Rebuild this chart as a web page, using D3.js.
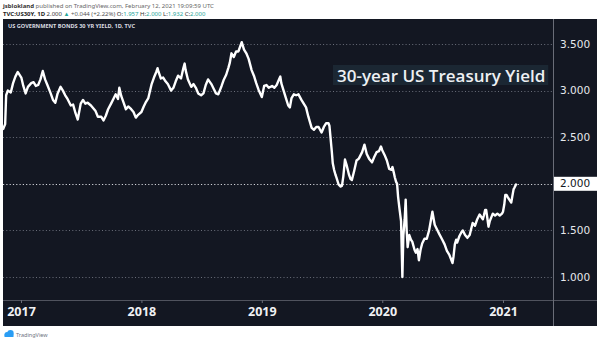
<!DOCTYPE html>
<html>
<head>
<meta charset="utf-8">
<script src="https://cdn.jsdelivr.net/npm/d3@7"></script>
<style>
html,body{margin:0;padding:0;background:#ffffff;}
svg{display:block;}
</style>
</head>
<body>
<script>
// ---- Data ----
const dates = [
"2016-11-07","2016-11-14","2016-11-17","2016-11-22","2016-12-01","2016-12-08","2016-12-15","2016-12-22",
"2017-01-02","2017-01-08","2017-01-15","2017-01-22","2017-02-01","2017-02-08","2017-02-15","2017-02-22",
"2017-03-01","2017-03-08","2017-03-15","2017-03-22","2017-04-01","2017-04-08","2017-04-15","2017-04-22",
"2017-05-01","2017-05-08","2017-05-15","2017-05-22","2017-06-01","2017-06-08","2017-06-15","2017-06-22",
"2017-07-01","2017-07-08","2017-07-15","2017-07-22","2017-08-01","2017-08-08","2017-08-15","2017-08-22",
"2017-09-01","2017-09-08","2017-09-15","2017-09-22","2017-10-01","2017-10-08","2017-10-15","2017-10-22","2017-10-26",
"2017-11-01","2017-11-08","2017-11-15","2017-11-22","2017-12-01","2017-12-08","2017-12-15","2017-12-22",
"2018-01-01","2018-01-08","2018-01-15","2018-01-22","2018-02-01","2018-02-08","2018-02-15","2018-02-19","2018-02-22",
"2018-03-01","2018-03-08","2018-03-15","2018-03-22","2018-04-01","2018-04-08","2018-04-15","2018-04-22",
"2018-05-01","2018-05-08","2018-05-12","2018-05-15","2018-05-22","2018-06-01","2018-06-08","2018-06-15","2018-06-22",
"2018-07-01","2018-07-08","2018-07-15","2018-07-22","2018-08-01","2018-08-08","2018-08-15","2018-08-22",
"2018-09-01","2018-09-08","2018-09-15","2018-09-22","2018-09-26","2018-10-01","2018-10-08","2018-10-15","2018-10-22","2018-10-26",
"2018-11-01","2018-11-08","2018-11-15","2018-11-22","2018-12-01","2018-12-08","2018-12-15","2018-12-22",
"2019-01-01","2019-01-08","2019-01-15","2019-01-22","2019-02-01","2019-02-08","2019-02-15","2019-02-22","2019-02-26",
"2019-03-01","2019-03-08","2019-03-15","2019-03-22","2019-03-27","2019-04-01","2019-04-08","2019-04-15","2019-04-22",
"2019-05-01","2019-05-08","2019-05-15","2019-05-22","2019-06-01","2019-06-08","2019-06-15","2019-06-22",
"2019-07-01","2019-07-08","2019-07-15","2019-07-22","2019-07-25","2019-08-01","2019-08-04","2019-08-08","2019-08-12","2019-08-15","2019-08-22","2019-08-28",
"2019-09-01","2019-09-05","2019-09-10","2019-09-15","2019-09-22","2019-09-27","2019-10-01","2019-10-08","2019-10-15","2019-10-22",
"2019-11-01","2019-11-08","2019-11-15","2019-11-22","2019-12-01","2019-12-08","2019-12-15","2019-12-22","2019-12-28",
"2020-01-01","2020-01-08","2020-01-15","2020-01-22","2020-01-29","2020-02-01","2020-02-05","2020-02-08","2020-02-12","2020-02-15","2020-02-18","2020-02-22","2020-02-27",
"2020-03-02","2020-03-05","2020-03-09","2020-03-12","2020-03-15","2020-03-18","2020-03-23","2020-03-28",
"2020-04-01","2020-04-08","2020-04-12","2020-04-17","2020-04-21","2020-04-26","2020-05-01","2020-05-08","2020-05-15","2020-05-22",
"2020-06-01","2020-06-05","2020-06-08","2020-06-15","2020-06-22","2020-07-01","2020-07-08","2020-07-15","2020-07-22",
"2020-08-01","2020-08-04","2020-08-08","2020-08-12","2020-08-15","2020-08-22","2020-08-28","2020-09-01","2020-09-08","2020-09-15","2020-09-22",
"2020-10-01","2020-10-08","2020-10-15","2020-10-22","2020-11-01","2020-11-04","2020-11-08","2020-11-11","2020-11-15","2020-11-18","2020-11-22",
"2020-12-01","2020-12-08","2020-12-15","2020-12-22","2020-12-29","2021-01-01","2021-01-05","2021-01-08","2021-01-12","2021-01-15","2021-01-20","2021-01-26","2021-01-29",
"2021-02-02","2021-02-05","2021-02-09","2021-02-12"
];
const yields = [
2.58,2.64,2.95,3.00,2.98,3.08,3.15,3.20,
3.14,3.05,2.97,3.04,3.08,3.09,3.05,3.06,
3.12,3.21,3.12,3.06,2.97,2.90,2.87,2.97,
3.04,3.00,2.95,2.91,2.84,2.85,2.76,2.69,
2.86,2.90,2.86,2.87,2.84,2.81,2.78,2.72,
2.72,2.68,2.73,2.80,2.86,2.91,2.96,2.91,3.03,
2.94,2.87,2.80,2.83,2.80,2.77,2.71,2.74,
2.77,2.83,2.88,2.92,3.07,3.14,3.20,3.24,3.20,
3.13,3.14,3.10,3.07,3.00,3.03,3.10,3.16,
3.13,3.24,3.29,3.22,3.12,3.04,3.07,3.03,2.97,
2.95,2.97,3.06,3.12,3.07,3.02,2.97,2.96,
3.05,3.12,3.17,3.25,3.30,3.40,3.36,3.42,3.42,3.46,
3.52,3.44,3.40,3.34,3.22,3.16,3.08,3.01,
2.93,3.05,3.06,3.03,3.05,3.03,3.06,3.12,3.15,
3.08,3.00,2.92,2.84,2.82,2.92,2.96,2.95,2.96,
2.90,2.86,2.82,2.72,2.60,2.58,2.61,2.61,
2.55,2.61,2.65,2.65,2.62,2.35,2.22,2.15,2.10,2.07,1.99,1.97,
1.98,2.08,2.26,2.20,2.10,2.05,2.04,2.14,2.25,2.27,
2.34,2.42,2.32,2.27,2.23,2.29,2.34,2.35,2.40,
2.36,2.31,2.25,2.16,2.15,2.18,2.12,2.07,2.02,2.00,1.86,1.74,1.60,
1.00,1.45,1.62,1.83,1.50,1.32,1.45,1.40,
1.38,1.29,1.26,1.30,1.18,1.29,1.36,1.41,1.41,1.50,
1.70,1.62,1.56,1.51,1.46,1.40,1.35,1.28,1.24,
1.15,1.22,1.35,1.40,1.37,1.44,1.48,1.50,1.45,1.42,1.45,
1.58,1.55,1.62,1.67,1.62,1.66,1.72,1.72,1.62,1.54,1.60,
1.68,1.66,1.68,1.66,1.68,1.70,1.78,1.88,1.88,1.86,1.83,1.80,1.86,
1.94,1.96,1.99,2.00
];
const yTicks = [1.0, 1.5, 2.0, 2.5, 3.0, 3.5];
const yearTicks = ["2017-01-01","2018-01-01","2019-01-01","2020-01-01","2021-01-01"];
const lastPrice = 2.0;
const chartTitle = "30-year US Treasury Yield";
const symbolTitle = "US GOVERNMENT BONDS 30 YR YIELD, 1D, TVC";

// ---- Build ----
const parse = d3.timeParse("%Y-%m-%d");
const data = dates.map((d, i) => ({date: parse(d), v: yields[i]}));

const W = 600, H = 341;
const panel = {x: 3, y: 19, w: 594, h: 307};
const plotRight = 553, axisTop = 300;

const x = d3.scaleTime().domain([parse("2017-01-01"), parse("2021-01-01")]).range([21, 503]);
const y = d3.scaleLinear().domain([1.0, 3.5]).range([277, 44]);

const svg = d3.select("body").append("svg").attr("width", W).attr("height", H);

// header texts
const h1 = svg.append("text").attr("x", 3).attr("y", 7.5)
  .style("font-family", "'Noto Sans', sans-serif").style("font-size", "6px").attr("fill", "#666");
h1.append("tspan").text("jsblokland").attr("font-weight", "bold").attr("fill", "#333");
h1.append("tspan").text(" published on TradingView.com, February 12, 2021 19:09:59 UTC");

const h2 = svg.append("text").attr("x", 3).attr("y", 15.5)
  .style("font-family", "'Noto Sans', sans-serif").style("font-size", "6px").attr("fill", "#333");
h2.append("tspan").text("TVC:US30Y, 1D").attr("font-weight", "bold").attr("fill", "#222");
h2.append("tspan").text(" 2.000 ").attr("fill", "#333");
h2.append("tspan").text("▲").attr("fill", "#26a69a");
h2.append("tspan").text(" +0.044 (+2.22%) ").attr("fill", "#555");
h2.append("tspan").text("O:").attr("fill", "#333");
h2.append("tspan").text("1.957").attr("fill", "#26a69a");
h2.append("tspan").text(" H:").attr("fill", "#333");
h2.append("tspan").text("2.000").attr("fill", "#26a69a");
h2.append("tspan").text(" L:").attr("fill", "#333");
h2.append("tspan").text("1.932").attr("fill", "#26a69a");
h2.append("tspan").text(" C:").attr("fill", "#333");
h2.append("tspan").text("2.000").attr("fill", "#26a69a");

// panel
svg.append("rect").attr("x", panel.x).attr("y", panel.y).attr("width", panel.w).attr("height", panel.h)
  .attr("fill", "#131722");

// grid lines
svg.append("g").selectAll("line").data(yTicks.filter(t => t !== lastPrice)).join("line")
  .attr("x1", panel.x).attr("x2", plotRight)
  .attr("y1", d => Math.round(y(d)) + 0.5).attr("y2", d => Math.round(y(d)) + 0.5)
  .attr("stroke", "#6b6f7b").attr("stroke-width", 1).attr("stroke-dasharray", "1,2.3");

// axis separators
svg.append("line").attr("x1", panel.x).attr("x2", panel.x + panel.w)
  .attr("y1", axisTop + 0.5).attr("y2", axisTop + 0.5).attr("stroke", "#50535e");
svg.append("line").attr("x1", plotRight + 0.5).attr("x2", plotRight + 0.5)
  .attr("y1", panel.y).attr("y2", panel.y + panel.h).attr("stroke", "#6a6d78");

// title box
const titleG = svg.append("g");
const titleText = titleG.append("text").attr("x", 337).attr("y", 82)
  .style("font-family", "'Open Sans', sans-serif").style("font-size", "17px").style("font-weight", "600")
  .attr("fill", "#eef0f3").text(chartTitle);
const tw = titleText.node().getComputedTextLength();
titleG.insert("rect", "text").attr("x", 333).attr("y", 65).attr("width", tw + 7).attr("height", 20)
  .attr("fill", "#1b2733");

// symbol title
svg.append("text").attr("x", 8).attr("y", 28)
  .style("font-family", "'Noto Sans', sans-serif").style("font-size", "5.6px").style("font-weight", "bold")
  .attr("fill", "#d9dbe0").text(symbolTitle);

// last price line
svg.append("line").attr("x1", panel.x).attr("x2", plotRight)
  .attr("y1", Math.round(y(lastPrice)) + 0.5).attr("y2", Math.round(y(lastPrice)) + 0.5)
  .attr("stroke", "#d0d2d8").attr("stroke-width", 1).attr("stroke-dasharray", "1.2,2.1");

// line
svg.append("defs").append("clipPath").attr("id", "plotclip").append("rect")
  .attr("x", panel.x).attr("y", panel.y).attr("width", plotRight - panel.x).attr("height", axisTop - panel.y);
const line = d3.line().x(d => x(d.date)).y(d => y(d.v)).curve(d3.curveLinear);
svg.append("path").datum(data).attr("clip-path", "url(#plotclip)")
  .attr("d", line).attr("fill", "none").attr("stroke", "#ffffff").attr("stroke-width", 2.4)
  .attr("stroke-linejoin", "round");

// y axis (right)
const yAxis = svg.append("g").attr("transform", `translate(${plotRight},0)`)
  .call(d3.axisRight(y).tickValues(yTicks).tickFormat(d3.format(".3f")).tickSize(0).tickPadding(7));
yAxis.select(".domain").remove();
yAxis.selectAll("text").style("font-family", "'DejaVu Sans', sans-serif").style("font-size", "10.5px")
  .attr("fill", "#e6e8ec");

// last price label box
const lp = svg.append("g");
lp.append("rect").attr("x", plotRight + 1).attr("y", y(lastPrice) - 7).attr("width", panel.x + panel.w - plotRight - 1).attr("height", 14)
  .attr("fill", "#ffffff");
lp.append("text").attr("x", plotRight + 7).attr("y", y(lastPrice)).attr("dy", "0.32em")
  .style("font-family", "'DejaVu Sans', sans-serif").style("font-size", "10.5px").attr("fill", "#131722")
  .text(d3.format(".3f")(lastPrice));

// x axis
const xAxis = svg.append("g").attr("transform", `translate(0,${axisTop})`)
  .call(d3.axisBottom(x).tickValues(yearTicks.map(parse)).tickFormat(d3.timeFormat("%Y")).tickSize(3).tickPadding(4));
xAxis.select(".domain").remove();
xAxis.selectAll("line").attr("stroke", "#6a6d78");
xAxis.selectAll("text").style("font-family", "'Open Sans', sans-serif").style("font-size", "12.5px")
  .style("font-weight", "bold").attr("fill", "#f0f1f4");

// TradingView logo
const logo = svg.append("g").attr("transform", "translate(3,330)");
logo.append("circle").attr("cx", 4).attr("cy", 4.5).attr("r", 2.5).attr("fill", "#2a9df4");
logo.append("circle").attr("cx", 7.5).attr("cy", 3.2).attr("r", 3.2).attr("fill", "#2a9df4");
logo.append("rect").attr("x", 1.5).attr("y", 4.5).attr("width", 9).attr("height", 2.5).attr("fill", "#2a9df4");
logo.append("text").attr("x", 13).attr("y", 7)
  .style("font-family", "'Noto Sans', sans-serif").style("font-size", "5.5px").attr("fill", "#6d7280")
  .text("TradingView");
</script>
</body>
</html>
